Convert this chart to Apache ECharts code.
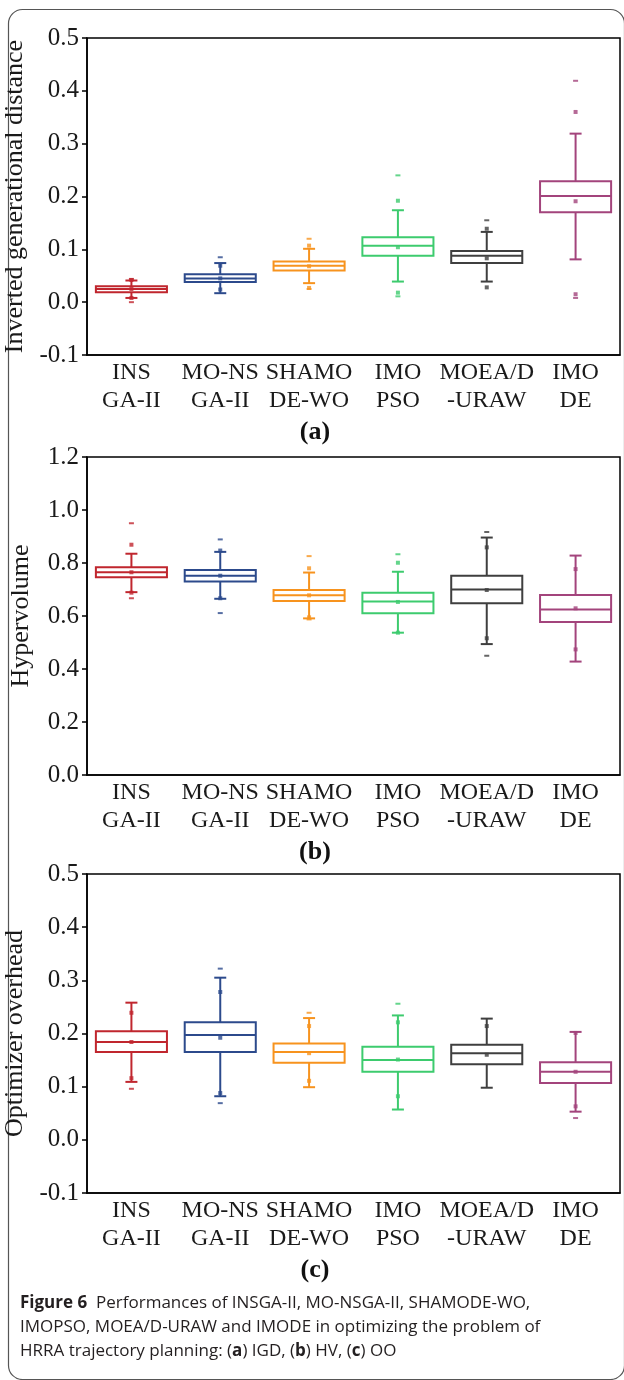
<!DOCTYPE html>
<html><head><meta charset="utf-8">
<script src="https://cdn.jsdelivr.net/npm/echarts@6/dist/echarts.min.js"></script>
<style>html,body{margin:0;padding:0;background:#fff}#c{width:624px;height:1380px}</style>
</head><body><div id="c"></div>
<script>
const categories = ['INS\nGA-II','MO-NS\nGA-II','SHAMO\nDE-WO','IMO\nPSO','MOEA/D\n-URAW','IMO\nDE'];
const colors = ['#C0262E','#2C4A8C','#F7931E','#3DCB6E','#3F3F3F','#A3447C'];

// Panel (a) IGD: [whisker low, Q1, median, Q3, whisker high]
const igdBox = [
  [0.008,0.019,0.025,0.030,0.041],
  [0.017,0.038,0.045,0.053,0.074],
  [0.036,0.060,0.069,0.077,0.101],
  [0.039,0.088,0.107,0.123,0.174],
  [0.039,0.074,0.088,0.097,0.133],
  [0.081,0.170,0.201,0.229,0.319]
];
const igdMean = [0.025,0.045,0.068,0.104,0.083,0.191];
const igdP99  = [0.042,0.069,0.107,0.192,0.139,0.360];
const igdP1   = [0.008,0.024,0.027,0.018,0.028,0.015];
const igdMax  = [0.044,0.085,0.120,0.240,0.155,0.419];
const igdMin  = [0.000,null,0.025,0.011,null,0.008];

// Panel (b) HV
const hvBox = [
  [0.690,0.746,0.765,0.784,0.835],
  [0.665,0.730,0.752,0.774,0.842],
  [0.591,0.657,0.678,0.698,0.764],
  [0.537,0.610,0.655,0.688,0.767],
  [0.494,0.648,0.700,0.752,0.896],
  [0.428,0.577,0.625,0.679,0.828]
];
const hvMean = [0.765,0.752,0.678,0.653,0.698,0.629];
const hvP99  = [0.869,0.847,0.780,0.801,0.859,0.777];
const hvP1   = [0.688,0.667,0.595,0.537,0.516,0.474];
const hvMax  = [0.950,0.889,0.826,0.833,0.917,null];
const hvMin  = [0.667,0.611,0.587,null,0.450,null];

// Panel (c) OO
const ooBox = [
  [0.109,0.165,0.184,0.204,0.258],
  [0.082,0.165,0.197,0.221,0.305],
  [0.099,0.145,0.165,0.181,0.229],
  [0.057,0.128,0.150,0.175,0.234],
  [0.098,0.142,0.163,0.179,0.228],
  [0.053,0.107,0.128,0.146,0.203]
];
const ooMean = [0.184,0.192,0.163,0.151,0.160,0.128];
const ooP99  = [0.239,0.278,0.214,0.221,0.214,0.201];
const ooP1   = [0.116,0.088,0.111,0.082,null,0.063];
const ooMax  = [null,0.322,0.239,0.256,null,null];
const ooMin  = [0.096,0.069,null,null,null,0.041];

const yTitles = ['Inverted generational distance','Hypervolume','Optimizer overhead'];
const panelTags = ['(a)','(b)','(c)'];

const serif = '"Liberation Serif","Times New Roman",serif';
const grids = [
  {left:87, right:4, top:38, height:317},
  {left:87, right:4, top:457, height:318},
  {left:87, right:4, top:874, height:319}
];
const yRanges = [[-0.1,0.5,0.1],[0,1.2,0.2],[-0.1,0.5,0.1]];
const panels = [
  {box:igdBox, mean:igdMean, p99:igdP99, p1:igdP1, max:igdMax, min:igdMin},
  {box:hvBox, mean:hvMean, p99:hvP99, p1:hvP1, max:hvMax, min:hvMin},
  {box:ooBox, mean:ooMean, p99:ooP99, p1:ooP1, max:ooMax, min:ooMin}
];

function boxRender(params, api){
  const i = api.value(0);
  const low = api.coord([i, api.value(1)]);
  const q1 = api.coord([i, api.value(2)]);
  const med = api.coord([i, api.value(3)]);
  const q3 = api.coord([i, api.value(4)]);
  const high = api.coord([i, api.value(5)]);
  const bw = api.size([1,0])[0]*0.8;
  const x = low[0], cap = 6;
  const c = colors[i];
  const st = {stroke:c, lineWidth:2, fill:null};
  return {type:'group', children:[
    {type:'line', shape:{x1:x,y1:q3[1],x2:x,y2:high[1]}, style:st},
    {type:'line', shape:{x1:x,y1:q1[1],x2:x,y2:low[1]}, style:st},
    {type:'line', shape:{x1:x-cap,y1:high[1],x2:x+cap,y2:high[1]}, style:st},
    {type:'line', shape:{x1:x-cap,y1:low[1],x2:x+cap,y2:low[1]}, style:st},
    {type:'rect', shape:{x:x-bw/2, y:q3[1], width:bw, height:q1[1]-q3[1]}, style:{stroke:c, lineWidth:2, fill:'#fff'}},
    {type:'line', shape:{x1:x-bw/2,y1:med[1],x2:x+bw/2,y2:med[1]}, style:st}
  ]};
}

function pts(arr){ return arr.map((v,i)=> v==null ? null : [i,v]).filter(d=>d); }

const xAxis = [], yAxis = [], series = [];
grids.forEach((g,k)=>{
  xAxis.push({
    type:'category', gridIndex:k, data:categories,
    axisLine:{onZero:false, lineStyle:{color:'#000', width:1.5}},
    axisTick:{alignWithLabel:true, length:5, lineStyle:{color:'#000', width:1.5}},
    axisLabel:{fontFamily:serif, fontSize:24, color:'#1a1a1a', lineHeight:28, margin:4, interval:0}
  });
  yAxis.push({
    type:'value', gridIndex:k, min:yRanges[k][0], max:yRanges[k][1], interval:yRanges[k][2],
    name:yTitles[k], nameLocation:'middle', nameGap:53, nameRotate:90,
    nameTextStyle:{fontFamily:serif, fontSize:26, color:'#1a1a1a'},
    splitLine:{show:false},
    axisLine:{show:true, onZero:false, lineStyle:{color:'#000', width:1.5}},
    axisTick:{show:true, length:5, lineStyle:{color:'#000', width:1.5}},
    axisLabel:{fontFamily:serif, fontSize:25, color:'#1a1a1a', margin:8, formatter:v=>v.toFixed(1)}
  });
  const p = panels[k];
  series.push({
    type:'custom', xAxisIndex:k, yAxisIndex:k, renderItem:boxRender,
    encode:{x:0, y:[1,2,3,4,5]},
    data:p.box.map((r,i)=>[i].concat(r)), z:2
  });
  const colorFn = prm => colors[prm.data[0]];
  series.push({type:'scatter', xAxisIndex:k, yAxisIndex:k, symbol:'rect', symbolSize:[4,4], data:pts(p.mean), itemStyle:{color:colorFn}, z:5});
  series.push({type:'scatter', xAxisIndex:k, yAxisIndex:k, symbol:'rect', symbolSize:[4,4], data:pts(p.p99), itemStyle:{color:colorFn}, z:5});
  series.push({type:'scatter', xAxisIndex:k, yAxisIndex:k, symbol:'rect', symbolSize:[4,4], data:pts(p.p1), itemStyle:{color:colorFn}, z:5});
  series.push({type:'scatter', xAxisIndex:k, yAxisIndex:k, symbol:'rect', symbolSize:[5,2], data:pts(p.max), itemStyle:{color:colorFn}, z:5});
  series.push({type:'scatter', xAxisIndex:k, yAxisIndex:k, symbol:'rect', symbolSize:[5,2], data:pts(p.min), itemStyle:{color:colorFn}, z:5});
});

const tagY = [432, 852, 1270];
const graphic = [
  {type:'rect', left:6, top:7, shape:{width:616, height:1370, r:14}, style:{fill:null, stroke:'#555', lineWidth:1.2}, silent:true, z:-1}
];
panelTags.forEach((t,k)=>{
  graphic.push({type:'text', x:315, y:tagY[k], style:{text:t, fontFamily:serif, fontWeight:'bold', fontSize:26, fill:'#111', textAlign:'center', textVerticalAlign:'middle'}});
});
const capFont = '"Open Sans","Noto Sans",sans-serif';
const capBase = {fontFamily:capFont, fontSize:17, fill:'#231f20'};
const capRich = {b:{fontFamily:capFont, fontSize:17, fontWeight:'bold', fill:'#231f20'}, n:{fontFamily:capFont, fontSize:17, fill:'#231f20'}};
const capLines = [
  '{b|Figure 6}{n|  Performances of INSGA-II, MO-NSGA-II, SHAMODE-WO,}',
  '{n|IMOPSO, MOEA/D-URAW and IMODE in optimizing the problem of}',
  '{n|HRRA trajectory planning: (}{b|a}{n|) IGD, (}{b|b}{n|) HV, (}{b|c}{n|) OO}'
];
const capY = [1303, 1327, 1351];
capLines.forEach((t,k)=>{
  graphic.push({type:'text', x:20, y:capY[k], style:Object.assign({text:t, rich:capRich, textVerticalAlign:'middle'}, capBase)});
});

const chart = echarts.init(document.getElementById('c'), null, {renderer:'canvas'});
chart.setOption({
  animation:false,
  backgroundColor:'#fff',
  grid:grids.map(g=>Object.assign({show:true, borderColor:'#000', borderWidth:1.5, backgroundColor:'transparent', containLabel:false, outerBoundsMode:'none'}, g)),
  xAxis, yAxis, series, graphic
});
</script></body></html>
